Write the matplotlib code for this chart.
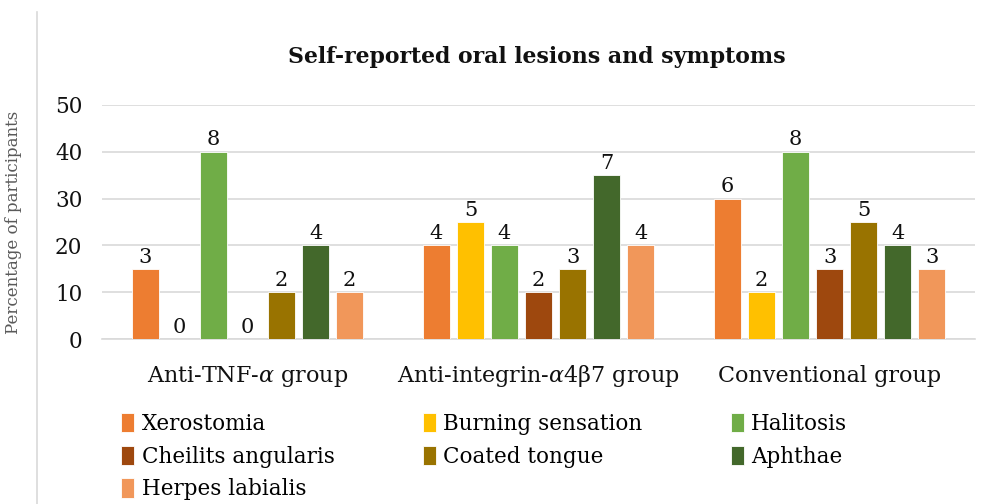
import matplotlib.pyplot as plt
import numpy as np
from matplotlib.lines import Line2D

plt.rcParams['font.family'] = 'DejaVu Serif'
plt.rcParams['mathtext.fontset'] = 'dejavuserif'

groups = ['Anti-TNF-$\\alpha$ group', 'Anti-integrin-$\\alpha$4β7 group', 'Conventional group']
symptoms = ['Xerostomia', 'Burning sensation', 'Halitosis', 'Cheilits angularis',
            'Coated tongue', 'Aphthae', 'Herpes labialis']
colors = ['#ED7D31', '#FFC000', '#70AD47', '#9E480E', '#997300', '#43682B', '#F1975A']

# percentage of participants per symptom, one list per group
pct_tnf = [15, 0, 40, 0, 10, 20, 10]
pct_integrin = [20, 25, 20, 10, 15, 35, 20]
pct_conv = [30, 10, 40, 15, 25, 20, 15]
# number of participants (shown on the bars)
n_tnf = [3, 0, 8, 0, 2, 4, 2]
n_integrin = [4, 5, 4, 2, 3, 7, 4]
n_conv = [6, 2, 8, 3, 5, 4, 3]

pct = np.array([pct_tnf, pct_integrin, pct_conv])
counts = np.array([n_tnf, n_integrin, n_conv])

fig = plt.figure(figsize=(9.89, 5.04), dpi=100)
ax = fig.add_axes([0.103, 0.327, 0.883, 0.465])

x = np.arange(len(groups))
slot = 0.117
width = slot * 0.78
handles = []
for i, name in enumerate(symptoms):
    pos = x + (i - 3) * slot
    b = ax.bar(pos, pct[:, i], width, color=colors[i], edgecolor='white',
               linewidth=0.6, label=name, zorder=3)
    handles.append(b)
    for xp, v, c in zip(pos, pct[:, i], counts[:, i]):
        ax.text(xp, v + 0.5, str(c), ha='center', va='bottom', fontsize=15,
                color='#111111')

ax.set_ylim(0, 50)
ax.set_xlim(-0.5, 2.5)
ax.set_yticks(range(0, 51, 10))
ax.yaxis.grid(True, color='#D9D9D9', lw=1.2, zorder=0)
ax.set_axisbelow(True)
for s in ['top', 'right', 'left']:
    ax.spines[s].set_visible(False)
ax.spines['bottom'].set_color('#D9D9D9')
ax.spines['bottom'].set_linewidth(1.2)
ax.tick_params(axis='y', length=0, labelsize=15.5, colors='#111111', pad=14)
ax.tick_params(axis='x', length=0, labelsize=16, colors='#111111', pad=31)
ax.set_xticks(x)
ax.set_xticklabels(groups)
for lab in ax.get_xticklabels():
    lab.set_verticalalignment('baseline')
ax.set_ylabel('Percentage of participants', fontsize=12, color='#595959')
ax.yaxis.set_label_coords(-0.092, 0.5)

fig.text(0.543, 0.887, 'Self-reported oral lesions and symptoms', ha='center',
         va='center', fontsize=15.8, fontweight='bold', color='#111111')

# reorder so the legend reads row by row
order = [0, 3, 6, 1, 4, 2, 5]
fig.legend([handles[k] for k in order], [symptoms[k] for k in order], ncol=3,
           loc='upper left', bbox_to_anchor=(0.114, 0.198), frameon=False,
           fontsize=15.5, handlelength=0.6, handleheight=1.0, handletextpad=0.35,
           columnspacing=4.1, labelspacing=0.5, borderaxespad=0)

fig.add_artist(Line2D([0.037, 0.037], [0.0, 0.976], color='#D9D9D9', lw=1.2))

fig.savefig('out.png', dpi=100)
